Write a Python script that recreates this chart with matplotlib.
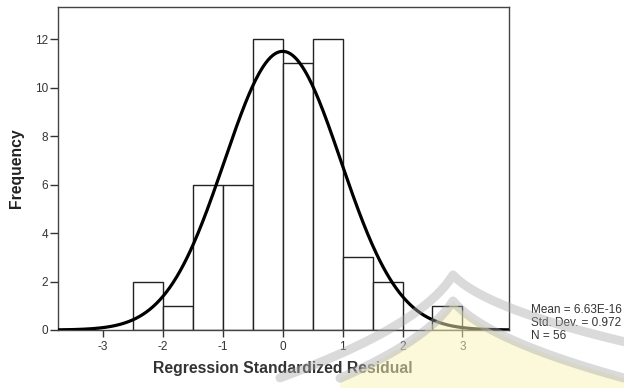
import numpy as np
import matplotlib.pyplot as plt
from matplotlib.lines import Line2D
from matplotlib.patches import Polygon

plt.rcParams['font.family'] = ['Liberation Sans', 'DejaVu Sans']
plt.rcParams['axes.unicode_minus'] = False

# Histograma de residuos estandarizados (intervalos de 0.5)
bordes = [-2.5, -2.0, -1.5, -1.0, -0.5, 0.0, 0.5, 1.0, 1.5, 2.0, 2.5, 3.0]
frecuencias = [2, 1, 6, 6, 12, 11, 12, 3, 2, 0, 1]
media = 6.63e-16
desv = 0.972
n = 56
ancho = 0.5

fig = plt.figure(figsize=(6.24, 3.88), dpi=100)
ax = fig.add_axes([0.093, 0.1495, 0.722, 0.833])

# Barras del histograma
for izq, f in zip(bordes[:-1], frecuencias):
    if f > 0:
        ax.bar(izq, f, width=ancho, align='edge', facecolor='white',
               edgecolor='#222222', linewidth=1.0, zorder=2)

# Curva normal escalada a frecuencias
xs = np.linspace(-3.75, 3.77, 400)
ys = n * ancho / (desv * np.sqrt(2 * np.pi)) * np.exp(-0.5 * ((xs - media) / desv) ** 2)
ax.plot(xs, ys, color='black', linewidth=2.3, zorder=3)

ax.set_xlim(-3.75, 3.77)
ax.set_ylim(0, 13.33)
ax.set_xticks([-3, -2, -1, 0, 1, 2, 3])
ax.set_yticks([0, 2, 4, 6, 8, 10, 12])
ax.tick_params(axis='y', length=6, width=1, pad=1, labelsize=8.5, colors='#333333')
ax.tick_params(axis='x', length=5, width=1, pad=3, labelsize=8.5, colors='#333333')
for s in ax.spines.values():
    s.set_color('#444444')
    s.set_linewidth(1.0)

ax.set_ylabel('Frequency', fontsize=11.3, fontweight='bold', color='#222222', labelpad=8)
ax.set_xlabel('Regression Standardized Residual', fontsize=11.3, fontweight='bold',
              color='#333333', labelpad=6)

# Estadísticos a la derecha
fig.text(531 / 624, 1 - 323 / 388, 'Mean = 6.63E-16\nStd. Dev. = 0.972\nN = 56',
         fontsize=8.5, color='#333333', va='center', ha='left', linespacing=1.1)

# Logo de fondo (marca de agua)
def px(pts):
    return [(x / 624, 1 - y / 388) for x, y in pts]

def pico(x0, y0, izq, der, k_izq, k_der):
    # curva cóncava con punta redondeada en (x0, y0)
    xl = np.linspace(izq, x0, 40)
    xr = np.linspace(x0, der, 40)
    yl = y0 + k_izq * (np.sqrt((x0 - xl) + 9) - 3)
    yr = y0 + k_der * (np.sqrt((xr - x0) + 9) - 3)
    return list(zip(xl, yl)) + list(zip(xr[1:], yr[1:]))

externa = pico(453, 275, 280, 624, 9.8, 6.4)
interna = pico(453, 301, 340, 624, 9.6, 7.4)

fondo = Polygon(px(interna + [(624, 388), (340, 388)]), closed=True,
                transform=fig.transFigure, facecolor='#fbf4b8', alpha=0.5,
                edgecolor='none', zorder=5)
fig.add_artist(fondo)
for pts in (externa, interna):
    xx, yy = zip(*px(pts))
    fig.add_artist(Line2D(xx, yy, transform=fig.transFigure, color='#a8a8a8',
                          linewidth=6.5, alpha=0.42, solid_capstyle='round', zorder=5))

fig.savefig('out.png', dpi=100)
